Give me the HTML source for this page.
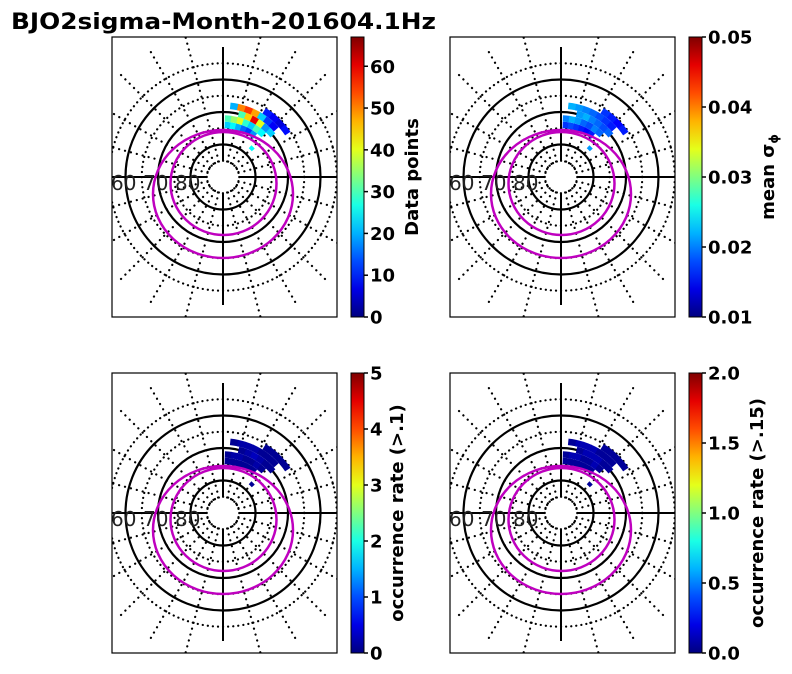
<!DOCTYPE html>
<html><head><meta charset="utf-8"><style>
body{margin:0;background:#fff;}
svg{display:block;font-family:"DejaVu Sans","Liberation Sans",sans-serif;}
</style></head><body>
<svg id="fig" width="792" height="674" viewBox="0 0 792 674">
<text x="11" y="29" font-size="22" font-weight="bold" fill="#000" textLength="425" lengthAdjust="spacingAndGlyphs">BJO2sigma-Month-201604.1Hz</text>
</svg>
<script>
// ---- data ----
const binLat = [74,74,74,74,74,74, 72,72,72,72,72,72,72, 70,70,70,70,70,70, 68,68,68,68,68,68,68, 66,66,66,66, 77.5];
const binAng = [5,11,17,23,29,35, 5,11,17,23,29,35,41, 17,23,29,35,41,47, 9,15,21,27,33,39,45, 35,41,47,53, 45];
const valsCount = [22,25,20,15,12,18, 30,35,40,28,22,30,25, 30,45,60,40,18,22, 20,50,55,48,22,12,8, 10,8,6,9, 25];
const valsSigma = [0.017,0.018,0.017,0.016,0.015,0.016, 0.020,0.022,0.021,0.019,0.018,0.020,0.019, 0.021,0.022,0.020,0.019,0.018,0.019, 0.022,0.021,0.020,0.019,0.018,0.017,0.016, 0.017,0.016,0.015,0.016, 0.021];
const valsOcc1 = [0.1,0.1,0.1,0.1,0.1,0.1, 0.1,0.2,0.2,0.1,0.1,0.2,0.1, 0.1,0.2,0.3,0.2,0.1,0.1, 0.1,0.2,0.2,0.2,0.1,0.1,0.1, 0.1,0.1,0.1,0.1, 0.1];
const valsOcc2 = [0.05,0.05,0.05,0.05,0.05,0.05, 0.05,0.1,0.1,0.05,0.05,0.1,0.05, 0.05,0.1,0.1,0.1,0.05,0.05, 0.05,0.1,0.1,0.1,0.05,0.05,0.05, 0.05,0.05,0.05,0.05, 0.05];
const ticks1 = ["0","10","20","30","40","50","60"];
const ticks2 = ["0.01","0.02","0.03","0.04","0.05"];
const ticks3 = ["0","1","2","3","4","5"];
const ticks4 = ["0.0","0.5","1.0","1.5","2.0"];
const tickVals1=[0,10,20,30,40,50,60], tickVals2=[0.01,0.02,0.03,0.04,0.05], tickVals3=[0,1,2,3,4,5], tickVals4=[0,0.5,1,1.5,2];

const NS="http://www.w3.org/2000/svg";
const svg=document.getElementById('fig');
function mk(t,a,p){const e=document.createElementNS(NS,t);for(const k in a)e.setAttribute(k,a[k]);(p||svg).appendChild(e);return e;}
function jet(v){v=Math.max(0,Math.min(1,v));
 const r=Math.max(0,Math.min(1,1.5-Math.abs(4*v-3))),g=Math.max(0,Math.min(1,1.5-Math.abs(4*v-2))),b=Math.max(0,Math.min(1,1.5-Math.abs(4*v-1)));
 return `rgb(${Math.round(r*255)},${Math.round(g*255)},${Math.round(b*255)})`;}
const rScale = lat => (90-lat)*3.25;

function panel(px,py,vals,vmin,vmax,ticks,tickVals,label,idx){
 const g=mk('g',{});
 
 
 const cx=px+111, cy=py+140;
 const cid='clip'+idx;
 const cp=mk('clipPath',{id:cid},g); mk('rect',{x:px,y:py,width:225,height:280},cp);
 const inner=mk('g',{'clip-path':`url(#${cid})`},g);
 [85,75,65,55].forEach(l=>{const c=mk('circle',{cx,cy,r:rScale(l),fill:'none',stroke:'#000','stroke-width':2.2,'stroke-dasharray':'0.1 5','stroke-linecap':'round'},inner);
  });
 for(let a=0;a<360;a+=15){ if(a%90===0) continue;
  const t=a*Math.PI/180;
  const l=mk('line',{x1:cx+16*Math.sin(t),y1:cy-16*Math.cos(t),x2:cx+150*Math.sin(t),y2:cy-150*Math.cos(t),stroke:'#000','stroke-width':2.2,'stroke-dasharray':'0.1 6','stroke-linecap':'round'},inner);
  }
 [80,70,60].forEach(l=>{const c=mk('circle',{cx,cy,r:rScale(l),fill:'none',stroke:'#000','stroke-width':2.2},inner);
  });
 [[cx,cy-16,cx,py+10],[cx,cy+16,cx,py+268],[cx-16,cy,px-5,cy],[cx+16,cy,px+230,cy]].forEach(s=>{
  const l=mk('line',{x1:s[0],y1:s[1],x2:s[2],y2:s[3],stroke:'#000','stroke-width':2},inner);
  });
 for(let i=0;i<binLat.length;i++){
  const r=rScale(binLat[i]), a0=(binAng[i]-3.2)*Math.PI/180, a1=(binAng[i]+3.2)*Math.PI/180;
  const p=mk('path',{d:`M${cx+r*Math.sin(a0)},${cy-r*Math.cos(a0)} A${r},${r} 0 0 1 ${cx+r*Math.sin(a1)},${cy-r*Math.cos(a1)}`,fill:'none',stroke:jet((vals[i]-vmin)/(vmax-vmin)),'stroke-width':(i===binLat.length-1?4:6.5)},inner);
  }
 const o1=mk('ellipse',{cx,cy:cy+17,rx:70,ry:64,fill:'none',stroke:'#bf00bf','stroke-width':2.5},inner);
 
 const o2=mk('ellipse',{cx:cx+0.5,cy:cy+6.5,rx:53,ry:51.5,fill:'none',stroke:'#bf00bf','stroke-width':2.5},inner);
 
 [[60,-1],[70,31],[80,63]].forEach(([l,dx])=>{const t=mk('text',{x:px+dx,y:cy+13,'font-size':20,fill:'#222'},inner);t.textContent=String(l);
  });
 const fr=mk('rect',{x:px,y:py,width:225,height:280,fill:'none',stroke:'#000','stroke-width':1.2},g);
 
 const bx=px+239, cb=mk('g',{},g);
 
 const gid='grad'+idx; const lg=mk('linearGradient',{id:gid,x1:0,y1:1,x2:0,y2:0},cb);
 for(let s=0;s<=10;s++) mk('stop',{offset:s/10,'stop-color':jet(s/10)},lg);
 mk('rect',{x:bx,y:py,width:13,height:280,fill:`url(#${gid})`,stroke:'#000','stroke-width':1},cb);
 tickVals.forEach((v,j)=>{const y=py+280-(v-vmin)/(vmax-vmin)*280;
  mk('line',{x1:bx+13,y1:y,x2:bx+17,y2:y,stroke:'#000','stroke-width':1.5},cb);
  const t=mk('text',{x:bx+19,y:y+6.5,'font-size':18,'font-weight':'bold'},cb);t.textContent=ticks[j];
  });
 const lx=label.x, ly=py+140;
 const t=mk('text',{x:lx,y:ly,'font-size':18,'font-weight':'bold','text-anchor':'middle',transform:`rotate(-90 ${lx} ${ly})`},cb);
 
 if(label.sigma){t.innerHTML='mean σ<tspan font-size="12" dy="4">ϕ</tspan>';} else t.textContent=label.text;
}
panel(112,37,valsCount,0,67,ticks1,tickVals1,{x:418,text:'Data points'},1);
panel(450,37,valsSigma,0.01,0.05,ticks2,tickVals2,{x:774,sigma:true},2);
panel(112,373,valsOcc1,0,5,ticks3,tickVals3,{x:403,text:'occurrence rate (>.1)'},3);
panel(450,373,valsOcc2,0,2,ticks4,tickVals4,{x:763,text:'occurrence rate (>.15)'},4);
</script>
</body></html>
